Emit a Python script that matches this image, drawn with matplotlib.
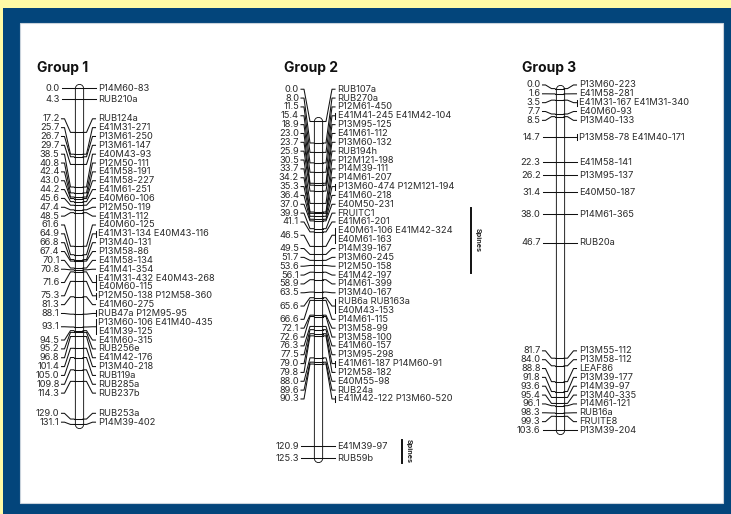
import matplotlib.pyplot as plt
from matplotlib.patches import Rectangle

plt.rcParams['font.family'] = ['Inter', 'Liberation Sans', 'DejaVu Sans']

# Linkage map data: positions (cM) and marker names for each group
g1_pos = [0.0, 4.3, 17.2, 25.7, 26.7, 29.7, 38.5, 40.8, 42.4, 43.0, 44.2, 45.6,
          47.4, 48.5, 61.6, 64.9, 66.8, 67.4, 70.1, 70.8, 71.6, 75.3, 81.3, 88.1,
          93.1, 94.5, 95.2, 96.8, 101.4, 105.0, 109.8, 114.3, 129.0, 131.1]
g1_names = [["P14M60-83"], ["RUB210a"], ["RUB124a"], ["E41M31-271"], ["P13M61-250"],
            ["P13M61-147"], ["E40M43-93"], ["P12M50-111"], ["E41M58-191"], ["E41M58-227"],
            ["E41M61-251"], ["E40M60-106"], ["P12M50-119"], ["E41M31-112"], ["E40M60-125"],
            ["E41M31-134", "E40M43-116"], ["P13M40-131"], ["P13M58-86"], ["E41M58-134"],
            ["E41M41-354"], ["E41M31-432", "E40M43-268", "E40M60-115"],
            ["P12M50-138", "P12M58-360"], ["E41M60-275"], ["RUB47a", "P12M95-95"],
            ["P13M60-106", "E41M40-435", "E41M39-125"], ["E41M60-315"], ["RUB256e"],
            ["E41M42-176"], ["P13M40-218"], ["RUB119a"], ["RUB285a"], ["RUB237b"],
            ["RUB253a"], ["P14M39-402"]]

g2_pos = [0.0, 8.0, 11.5, 15.4, 18.9, 23.0, 23.7, 25.9, 30.5, 33.7, 34.2, 35.3,
          36.4, 37.0, 39.9, 41.1, 46.5, 49.5, 51.7, 53.6, 56.1, 58.9, 63.5, 65.6,
          66.6, 72.1, 72.6, 76.3, 77.5, 79.0, 79.8, 88.0, 89.6, 90.3, 120.9, 125.3]
g2_names = [["RUB107a"], ["RUB270a"], ["P12M61-450"], ["E41M41-245", "E41M42-104"],
            ["P13M95-125"], ["E41M61-112"], ["P13M60-132"], ["RUB194h"], ["P12M121-198"],
            ["P14M39-111"], ["P14M61-207"], ["P13M60-474", "P12M121-194"], ["E41M60-218"],
            ["E40M50-231"], ["FRUITC1"], ["E41M61-201"],
            ["E40M61-106", "E41M42-324", "E40M61-163"], ["P14M39-167"], ["P13M60-245"],
            ["P12M50-158"], ["E41M42-197"], ["P14M61-399"], ["P13M40-167"],
            ["RUB6a", "RUB163a", "E40M43-153"], ["P14M61-115"], ["P13M58-99"],
            ["P13M58-100"], ["E41M60-157"], ["P13M95-298"], ["E41M61-187", "P14M60-91"],
            ["P12M58-182"], ["E40M55-98"], ["RUB24a"], ["E41M42-122", "P13M60-520"],
            ["E41M39-97"], ["RUB59b"]]

g3_pos = [0.0, 1.6, 3.5, 7.7, 8.5, 14.7, 22.3, 26.2, 31.4, 38.0, 46.7, 81.7, 84.0,
          88.8, 91.8, 93.6, 95.4, 96.1, 98.3, 99.3, 103.6]
g3_names = [["P13M60-223"], ["E41M58-281"], ["E41M31-167", "E41M31-340"], ["E40M60-93"],
            ["P13M40-133"], ["P13M58-78", "E41M40-171"], ["E41M58-141"], ["P13M95-137"],
            ["E40M50-187"], ["P14M61-365"], ["RUB20a"], ["P13M55-112"], ["P13M58-112"],
            ["LEAF86"], ["P13M39-177"], ["P14M39-97"], ["P13M40-335"], ["P14M61-121"],
            ["RUB16a"], ["FRUITE8"], ["P13M39-204"]]

# QTL intervals for "Spines" on group 2 (cM)
spine_intervals = [(32.2, 56.4), (118.6, 127.1)]

W, H = 731, 514
fig = plt.figure(figsize=(W / 100, H / 100), dpi=100)
fig.patch.set_facecolor('#FFFBA6')

# background frame
bg = fig.add_axes([0, 0, 1, 1])
bg.set_xlim(0, W)
bg.set_ylim(H, 0)
bg.axis('off')
bg.add_patch(Rectangle((3, 8), W - 3, H - 8, facecolor='#03457B', edgecolor='none'))
bg.add_patch(Rectangle((20, 23), 703, 480, facecolor='white', edgecolor='#c9d3dc', lw=0.8))

LINE_GAP = 8.85  # px between label lines
FS = 6.7
TXT = '#2a2a2a'


def spread(pos, heights, gap, end, lift):
    # pool adjacent violators so labels keep a minimum spacing
    off = [0.0]
    for i in range(1, len(pos)):
        off.append(off[-1] + gap * (heights[i - 1] + heights[i]) / 2)
    t = [p - o for p, o in zip(pos, off)]
    blocks = []
    for v, w in zip(t, heights):
        blocks.append([v * w, w, 1])
        while len(blocks) > 1 and blocks[-2][0] / blocks[-2][1] > blocks[-1][0] / blocks[-1][1]:
            s, w2, n = blocks.pop()
            blocks[-1][0] += s
            blocks[-1][1] += w2
            blocks[-1][2] += n
    z = []
    for s, w, n in blocks:
        z += [s / w - (lift if n > 1 else 0)] * n
    ys = [a + o for a, o in zip(z, off)]
    # labels may not run past the end of the chromosome
    ys[-1] = min(ys[-1], end)
    for i in range(len(ys) - 2, -1, -1):
        ys[i] = min(ys[i], ys[i + 1] - gap * (heights[i] + heights[i + 1]) / 2)
    return ys


def draw_group(title, pos, names, top_px, scale, bc, title_x, lift_px):
    length = pos[-1]
    bot_px = top_px + length * scale
    ax = fig.add_axes([0, 1 - bot_px / H, 1, (bot_px - top_px) / H])
    ax.set_xlim(0, W)
    ax.set_ylim(length, 0)
    ax.axis('off')
    gap = LINE_GAP / scale
    heights = [1 if len(n) <= 2 else 2 for n in names]
    ys = spread(pos, heights, gap, length, lift_px / scale)

    ax.text(title_x, (68 - top_px) / scale, title, fontsize=10, weight='bold',
            ha='left', va='center', color='#111111')

    # chromosome bar with rounded ends
    ax.plot([bc, bc], [0, length], lw=6.6, color='#111111', solid_capstyle='round', clip_on=False)
    ax.plot([bc, bc], [0, length], lw=5.3, color='white', solid_capstyle='round', clip_on=False)

    kw = dict(color='#111111', lw=0.75, clip_on=False)
    for p, nm, y in zip(pos, names, ys):
        ax.plot([bc - 4.5, bc + 4.5], [p, p], **kw)
        ax.plot([bc - 17, bc - 14, bc - 8, bc - 4.5], [y, y, p, p], **kw)
        ax.plot([bc + 4.5, bc + 8, bc + 14, bc + 17], [p, p, y, y], **kw)
        ax.text(bc - 19, y, f'{p:.1f}', ha='right', va='center', fontsize=FS, color=TXT)
        lines = [' '.join(nm[:2])]
        if len(nm) > 2:
            lines.append(' '.join(nm[2:]))
        if len(lines) == 1:
            ax.text(bc + 19.5, y, lines[0], ha='left', va='center', fontsize=FS, color=TXT)
        else:
            ax.text(bc + 19.5, y - gap / 2, lines[0], ha='left', va='center', fontsize=FS, color=TXT)
            ax.text(bc + 19.5, y + gap / 2, lines[1], ha='left', va='center', fontsize=FS, color=TXT)
        if len(nm) > 1:
            half = 3 / scale if len(lines) == 1 else gap / 2 + 3 / scale
            ax.plot([bc + 17, bc + 17], [y - half, y + half], **kw)
    return ax


draw_group('Group 1', g1_pos, g1_names, 88.3, 2.564, 78.5, 37, 4)
ax2 = draw_group('Group 2', g2_pos, g2_names, 121.5, 2.686, 318, 284, 9)
draw_group('Group 3', g3_pos, g3_names, 88.6, 3.30, 559.5, 522, 0)

# Spines QTL bars
for (a, b), x in zip(spine_intervals, [471, 402]):
    ax2.plot([x, x], [a, b], color='#111111', lw=1.4, clip_on=False)
    ax2.text(x + 7, (a + b) / 2, 'Spines', rotation=270, fontsize=5.2, weight='bold',
             ha='center', va='center', color='#222222')

fig.savefig('out.png', dpi=100, facecolor=fig.get_facecolor())
